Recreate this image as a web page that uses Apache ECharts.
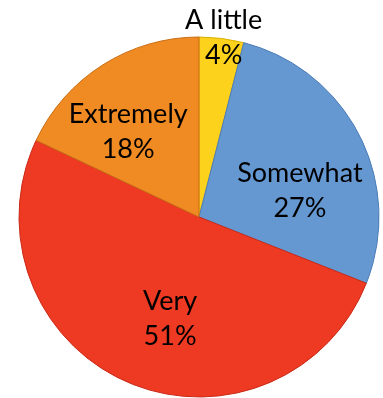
<!DOCTYPE html>
<html>
<head>
<meta charset="utf-8">
<script src="https://cdn.jsdelivr.net/npm/echarts@6/dist/echarts.min.js"></script>
<style>
  html, body { margin: 0; padding: 0; background: #ffffff; }
  #chart { width: 383px; height: 398px; }
</style>
</head>
<body>
<div id="chart"></div>
<script>
// Answer categories, clockwise from the top
const categories = ['A little', 'Somewhat', 'Very', 'Extremely'];
// Share of responses (%)
const shares = [4, 27, 51, 18];
// Slice fills
const sliceColors = ['#FCD21C', '#6597D1', '#EE3A23', '#F08A22'];
const edgeColors = ['#D9B000', '#4C7DB8', '#C92A18', '#C96E14'];
// Nudges that move each label off the default mid-radius spot
const labelOffsets = [[13, -87], [18, 16], [8, 16], [-21, -7]];

const chart = echarts.init(document.getElementById('chart'), null, { renderer: 'canvas' });

const data = categories.map((name, i) => ({
  name: name,
  value: shares[i],
  itemStyle: { color: sliceColors[i], borderColor: edgeColors[i] },
  label: { offset: labelOffsets[i] }
}));

chart.setOption({
  animation: false,
  backgroundColor: '#ffffff',
  series: [{
    type: 'pie',
    center: [199, 217],
    radius: [0, 180],
    startAngle: 90,
    clockwise: true,
    avoidLabelOverlap: false,
    itemStyle: { borderWidth: 1 },
    label: {
      show: true,
      position: 'inside',
      formatter: '{b}\n{c}%',
      fontFamily: 'Lato',
      fontSize: 27,
      lineHeight: 35,
      color: '#000000'
    },
    labelLine: { show: false },
    emphasis: { disabled: true },
    data: data
  }]
});
</script>
</body>
</html>
